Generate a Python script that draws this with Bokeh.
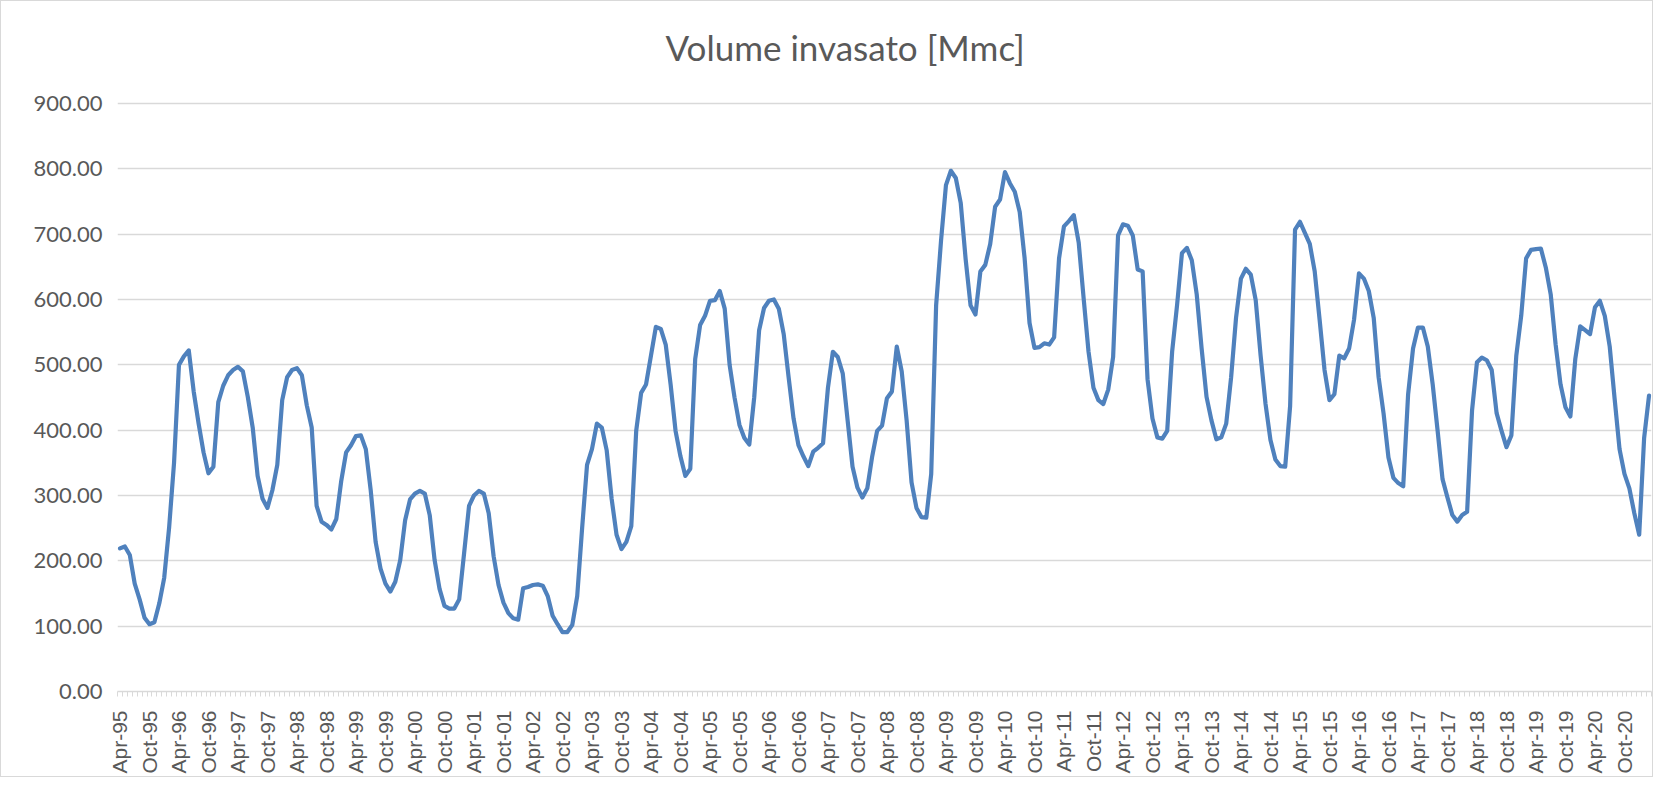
from math import pi
from bokeh.plotting import figure
from bokeh.models import ColumnDataSource, FixedTicker, NumeralTickFormatter, Range1d, Label
from bokeh.embed import file_html
from bokeh.resources import INLINE

# Monthly stored volume [Mmc], Apr-1995 .. Mar-2021
vol_1995 = [219, 222, 209, 165, 141, 113, 103, 106, 135]  # Apr..Dec
vol_1996 = [174, 251, 350, 500, 513, 522, 459, 410, 366, 334, 344, 443]
vol_1997 = [468, 484, 492, 497, 490, 451, 404, 330, 295, 281, 308, 347]
vol_1998 = [446, 481, 492, 495, 484, 438, 404, 284, 260, 255, 248, 264]
vol_1999 = [322, 366, 377, 391, 392, 371, 308, 229, 188, 165, 153, 168]
vol_2000 = [201, 262, 294, 303, 307, 303, 270, 201, 157, 131, 127, 127]
vol_2001 = [141, 212, 284, 300, 307, 303, 273, 207, 163, 136, 120, 112]
vol_2002 = [110, 158, 160, 163, 164, 162, 146, 116, 103, 91, 91, 102]
vol_2003 = [146, 250, 347, 371, 410, 404, 369, 295, 240, 218, 229, 253]
vol_2004 = [399, 457, 470, 514, 558, 555, 531, 470, 399, 360, 330, 341]
vol_2005 = [509, 561, 575, 598, 599, 613, 586, 500, 450, 408, 388, 378]
vol_2006 = [450, 553, 587, 598, 600, 586, 547, 481, 418, 377, 360, 345]
vol_2007 = [367, 373, 380, 465, 520, 512, 487, 415, 344, 312, 297, 311]
vol_2008 = [360, 399, 407, 449, 459, 528, 490, 415, 320, 281, 267, 266]
vol_2009 = [333, 591, 690, 775, 797, 786, 748, 662, 591, 577, 643, 653]
vol_2010 = [685, 742, 753, 795, 778, 765, 734, 663, 564, 526, 527, 533]
vol_2011 = [531, 542, 663, 712, 720, 729, 687, 602, 520, 465, 446, 440]
vol_2012 = [462, 512, 698, 715, 713, 698, 646, 643, 478, 418, 389, 387]
vol_2013 = [399, 520, 591, 671, 679, 660, 608, 525, 451, 415, 386, 389]
vol_2014 = [410, 481, 572, 632, 647, 638, 599, 514, 440, 385, 355, 345]
vol_2015 = [344, 437, 707, 719, 702, 685, 643, 569, 492, 446, 455, 514]
vol_2016 = [510, 525, 569, 640, 632, 613, 572, 481, 426, 358, 327, 319]
vol_2017 = [314, 455, 525, 557, 557, 528, 470, 399, 325, 297, 270, 260]
vol_2018 = [270, 275, 430, 504, 511, 507, 492, 426, 399, 374, 392, 514]
vol_2019 = [575, 663, 676, 677, 678, 649, 608, 531, 470, 435, 421, 509]
vol_2020 = [559, 553, 547, 588, 598, 575, 528, 448, 371, 333, 311, 273]
vol_2021 = [240, 388, 453]  # Jan..Mar

tick_labels = [
    "Apr-95", "Oct-95", "Apr-96", "Oct-96", "Apr-97", "Oct-97", "Apr-98", "Oct-98",
    "Apr-99", "Oct-99", "Apr-00", "Oct-00", "Apr-01", "Oct-01", "Apr-02", "Oct-02",
    "Apr-03", "Oct-03", "Apr-04", "Oct-04", "Apr-05", "Oct-05", "Apr-06", "Oct-06",
    "Apr-07", "Oct-07", "Apr-08", "Oct-08", "Apr-09", "Oct-09", "Apr-10", "Oct-10",
    "Apr-11", "Oct-11", "Apr-12", "Oct-12", "Apr-13", "Oct-13", "Apr-14", "Oct-14",
    "Apr-15", "Oct-15", "Apr-16", "Oct-16", "Apr-17", "Oct-17", "Apr-18", "Oct-18",
    "Apr-19", "Oct-19", "Apr-20", "Oct-20",
]
label_step = 6  # one label every 6 months
y_ticks = [0, 100, 200, 300, 400, 500, 600, 700, 800, 900]
title_text = "Volume invasato [Mmc]"

values = (vol_1995 + vol_1996 + vol_1997 + vol_1998 + vol_1999 + vol_2000 + vol_2001
          + vol_2002 + vol_2003 + vol_2004 + vol_2005 + vol_2006 + vol_2007 + vol_2008
          + vol_2009 + vol_2010 + vol_2011 + vol_2012 + vol_2013 + vol_2014 + vol_2015
          + vol_2016 + vol_2017 + vol_2018 + vol_2019 + vol_2020 + vol_2021)
n = len(values)
src = ColumnDataSource(dict(x=list(range(n)), y=values))

GREY_TXT = "#595959"
GRID = "#d9d9d9"

# frame extends above the 900 gridline to leave room for the title inside the chart area
p = figure(width=1653, height=777, output_backend="svg", toolbar_location=None,
           x_range=Range1d(-0.5, n - 0.5), y_range=Range1d(0, 1025.5),
           min_border_left=116, min_border_right=3, min_border_top=20,
           min_border_bottom=87)
p.outline_line_color = None
p.background_fill_color = "white"
p.border_fill_color = "white"

p.line("x", "y", source=src, line_color="#4f81bd", line_width=4.2,
       line_join="round", line_cap="round")

p.add_layout(Label(x=147.5, y=986, text=title_text, text_align="center",
                   text_baseline="middle", text_font="Lato", text_font_size="35px",
                   text_color=GREY_TXT))

# y axis
p.yaxis.ticker = FixedTicker(ticks=y_ticks)
p.yaxis.formatter = NumeralTickFormatter(format="0.00")
p.yaxis.axis_line_color = None
p.yaxis.major_tick_line_color = None
p.yaxis.minor_tick_line_color = None
p.yaxis.major_label_text_font = "Lato"
p.yaxis.major_label_text_font_size = "22px"
p.yaxis.major_label_text_color = GREY_TXT
p.yaxis.major_label_standoff = 9
p.ygrid.grid_line_color = GRID
p.ygrid.grid_line_width = 1.5

# x axis: category centers labelled every 6 months, ticks at month boundaries
centers = list(range(0, len(tick_labels) * label_step, label_step))
boundaries = [i - 0.5 for i in range(n + 1)]
p.xaxis.ticker = FixedTicker(ticks=centers, minor_ticks=boundaries)
p.xaxis.major_label_overrides = {c: lab for c, lab in zip(centers, tick_labels)}
p.xaxis.major_label_orientation = pi / 2
p.xaxis.major_label_text_font = "Liberation Sans"
p.xaxis.major_label_text_font_size = "21px"
p.xaxis.major_label_text_color = GREY_TXT
p.xaxis.major_label_standoff = 13
p.xaxis.axis_line_color = GRID
p.xaxis.axis_line_width = 1.5
p.xaxis.major_tick_line_color = None
p.xaxis.minor_tick_line_color = GRID
p.xaxis.minor_tick_out = 5
p.xaxis.minor_tick_in = 0
p.xgrid.grid_line_color = None

p.styles = {"border": "1px solid #d9d9d9", "box-sizing": "border-box"}

open("out.html", "w").write(file_html(p, INLINE))
